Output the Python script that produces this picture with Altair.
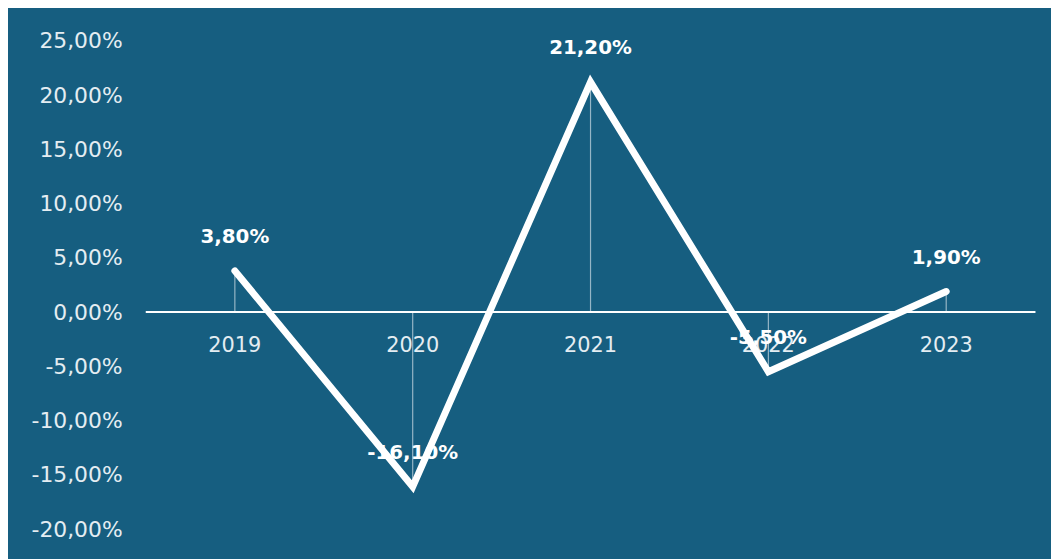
import altair as alt
import pandas as pd

years = ["2019", "2020", "2021", "2022", "2023"]
values = [3.8, -16.1, 21.2, -5.5, 1.9]
y_ticks = [-20, -15, -10, -5, 0, 5, 10, 15, 20, 25]

df = pd.DataFrame({"year": years, "value": values})
df["label"] = [f"{v:.2f}".replace(".", ",") + "%" for v in values]

BG = "#165e80"
FONT = "DejaVu Sans"

x = alt.X("year:N", sort=years, axis=None,
          scale=alt.Scale(type="point", padding=0.5))
y = alt.Y("value:Q",
          scale=alt.Scale(domain=[-20, 25], nice=False, zero=False),
          axis=alt.Axis(values=y_ticks, title=None, domain=False, ticks=False, grid=False,
                        labelExpr="(datum.value < 0 ? '-' : '') + replace(format(abs(datum.value), '.2f'), '.', ',') + '%'",
                        labelFont=FONT, labelFontSize=22, labelColor="#e4edf2",
                        labelPadding=24, labelFlush=False, labelOverlap=False))

base = alt.Chart(df)

zero = base.mark_rule(color="white", strokeWidth=2).encode(y=alt.datum(0))

drops = base.mark_rule(color="white", strokeWidth=1.2, opacity=0.55).encode(
    x=x, y=y, y2=alt.datum(0))

xlabels = base.mark_text(font=FONT, fontSize=21, color="#e4edf2", dy=34,
                         baseline="middle").encode(
    x=x, y=alt.datum(0), text="year:N")

line = base.mark_line(color="white", strokeWidth=7, strokeCap="round",
                      strokeJoin="miter").encode(x=x, y=y)

labels = base.mark_text(font=FONT, fontSize=20, fontWeight="bold", color="white",
                        dy=-34, baseline="middle").encode(
    x=x, y=y, text="label:N")

chart = alt.layer(zero, drops, xlabels, line, labels).properties(
    width=896, height=492,
    background=BG,
    padding={"left": 139, "top": 31, "right": 16, "bottom": 28},
    autosize=alt.AutoSizeParams(type="none"),
).configure_view(stroke=None)

chart.save("out.html", embed_options={"renderer": "svg", "actions": False})
